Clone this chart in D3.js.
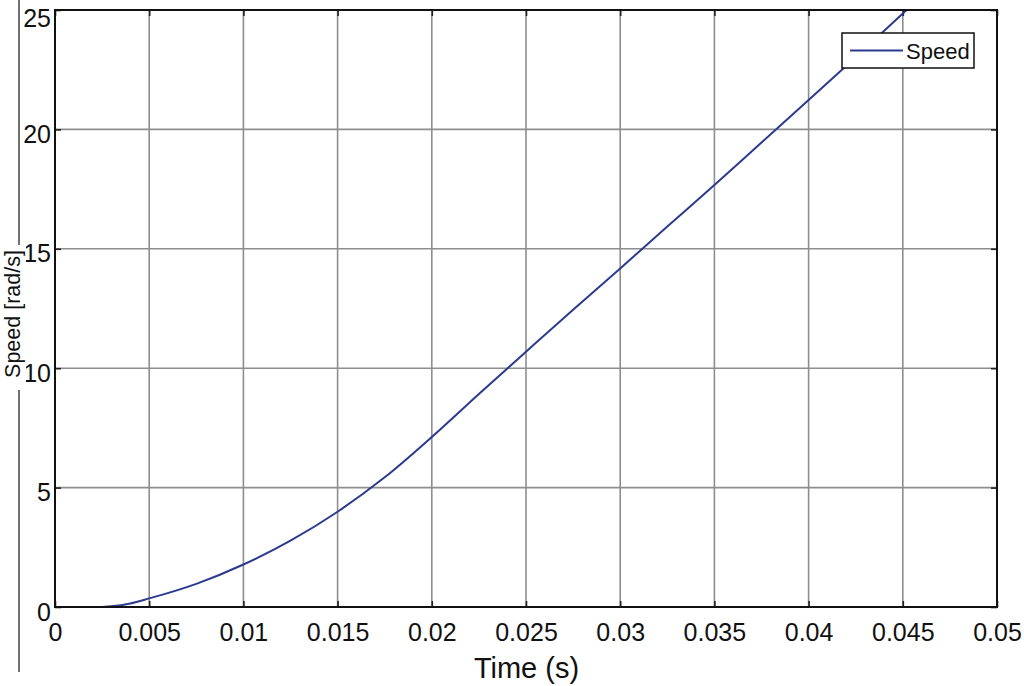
<!DOCTYPE html>
<html>
<head>
<meta charset="utf-8">
<script src="https://cdn.jsdelivr.net/npm/d3@7"></script>
<style>
  html, body { margin: 0; padding: 0; background: #fff; }
  svg { display: block; font-family: "Liberation Sans", Arial, Helvetica, sans-serif; }
</style>
</head>
<body>
<svg id="chart" width="1024" height="686"></svg>
<script>
// ---- data ----
const timeS = [0, 0.0024, 0.003, 0.004, 0.005, 0.0075, 0.01, 0.0125, 0.015, 0.0175, 0.02, 0.0225, 0.025, 0.0275, 0.03, 0.0325, 0.035, 0.0375, 0.04, 0.0425, 0.0452];
const speed = [0, 0, 0.03, 0.15, 0.36, 0.97, 1.78, 2.78, 3.99, 5.43, 7.12, 8.92, 10.69, 12.45, 14.18, 15.93, 17.67, 19.45, 21.23, 23.02, 25];
const xTicks = [0, 0.005, 0.01, 0.015, 0.02, 0.025, 0.03, 0.035, 0.04, 0.045, 0.05];
const xTickLabels = ["0", "0.005", "0.01", "0.015", "0.02", "0.025", "0.03", "0.035", "0.04", "0.045", "0.05"];
const yTicks = [0, 5, 10, 15, 20, 25];
const yTickLabels = ["0", "5", "10", "15", "20", "25"];
const seriesName = "Speed";
const xTitle = "Time (s)";
const yTitle = "Speed [rad/s]";

// ---- layout ----
const svg = d3.select("#chart");
const L = 55, R = 997, T = 10, B = 607;
const x = d3.scaleLinear().domain([0, 0.05]).range([L, R]);
const y = d3.scaleLinear().domain([0, 25]).range([B, T]);
const lineColor = "#2c3a8e";

// stray left border line
svg.append("line").attr("x1", 19).attr("x2", 19).attr("y1", 0).attr("y2", 672)
  .attr("stroke", "#707070").attr("stroke-width", 2);

// grid
const grid = svg.append("g");
grid.selectAll("line.vx").data(xTicks.slice(1, -1)).enter().append("line")
  .attr("x1", d => x(d)).attr("x2", d => x(d)).attr("y1", T).attr("y2", B)
  .attr("stroke", "#8e8e8e").attr("stroke-width", 1.6);
grid.selectAll("line.hy").data(yTicks.slice(1, -1)).enter().append("line")
  .attr("y1", d => y(d)).attr("y2", d => y(d)).attr("x1", L).attr("x2", R)
  .attr("stroke", "#8e8e8e").attr("stroke-width", 1.6);

// axes with inward ticks
const tickLen = 6;
const axB = d3.axisBottom(x).tickValues(xTicks).tickSize(-tickLen).tickFormat((d, i) => xTickLabels[i]).tickPadding(14);
const axT = d3.axisTop(x).tickValues(xTicks).tickSize(-tickLen).tickFormat("");
const axLft = d3.axisLeft(y).tickValues(yTicks).tickSize(-tickLen).tickFormat((d, i) => yTickLabels[i]).tickPadding(5);
const axRt = d3.axisRight(y).tickValues(yTicks).tickSize(-tickLen).tickFormat("");

function style(g) {
  g.select(".domain").remove();
  g.selectAll(".tick line").attr("stroke", "#222").attr("stroke-width", 1.6);
  g.selectAll(".tick text").attr("fill", "#111").attr("font-size", 25);
}
const gB = svg.append("g").attr("transform", `translate(0,${B})`).call(axB).call(style);
gB.selectAll(".tick text").attr("dy", null).attr("y", 33.5);
svg.append("g").attr("transform", `translate(0,${T})`).call(axT).call(style);
const gL = svg.append("g").attr("transform", `translate(${L},0)`).call(axLft).call(style);
gL.selectAll(".tick text").attr("dy", null).attr("x", -4)
  .attr("y", d => Math.max(13, 26 - y(d)));
svg.append("g").attr("transform", `translate(${R},0)`).call(axRt).call(style);

// curve
svg.append("clipPath").attr("id", "clip").append("rect")
  .attr("x", L).attr("y", T).attr("width", R - L).attr("height", B - T);
const pts = timeS.map((t, i) => [t, speed[i]]);
svg.append("path").datum(pts)
  .attr("clip-path", "url(#clip)")
  .attr("fill", "none").attr("stroke", lineColor).attr("stroke-width", 2)
  .attr("d", d3.line().x(d => x(d[0])).y(d => y(d[1])).curve(d3.curveMonotoneX));

// frame
svg.append("rect").attr("x", L).attr("y", T).attr("width", R - L).attr("height", B - T)
  .attr("fill", "none").attr("stroke", "#111").attr("stroke-width", 2);

// legend
const lg = svg.append("g");
lg.append("rect").attr("x", 842).attr("y", 33).attr("width", 132).attr("height", 35)
  .attr("fill", "#fff").attr("stroke", "#111").attr("stroke-width", 1.5);
lg.append("line").attr("x1", 850).attr("x2", 903).attr("y1", 50.5).attr("y2", 50.5)
  .attr("stroke", lineColor).attr("stroke-width", 2);
lg.append("text").attr("x", 906).attr("y", 58.5).attr("font-size", 22).attr("fill", "#111").text(seriesName);

// axis titles
svg.append("text").attr("x", 526.5).attr("y", 678).attr("text-anchor", "middle")
  .attr("font-size", 29).attr("fill", "#111").text(xTitle);
svg.append("rect").attr("x", 4).attr("y", 245).attr("width", 22).attr("height", 145).attr("fill", "#fff");
svg.append("text").attr("transform", "translate(20,314) rotate(-90)").attr("text-anchor", "middle")
  .attr("font-size", 21.5).attr("fill", "#111").text(yTitle);
</script>
</body>
</html>
